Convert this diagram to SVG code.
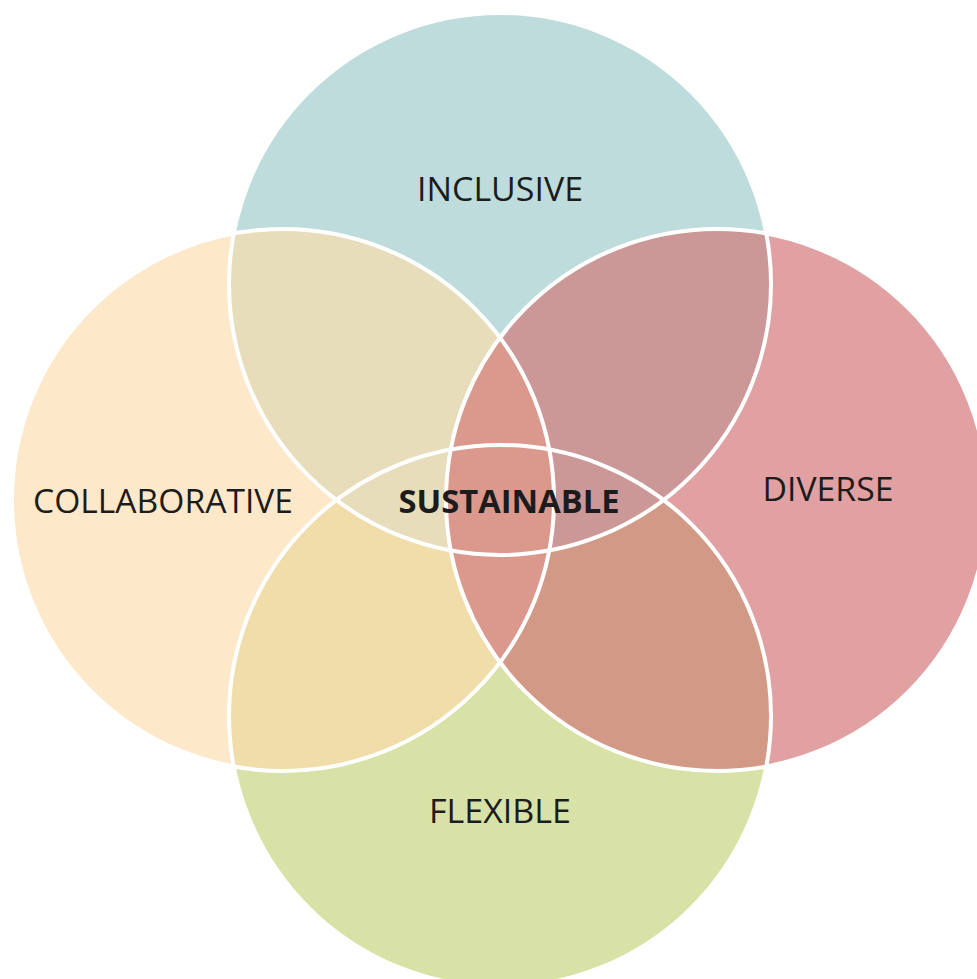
<svg xmlns="http://www.w3.org/2000/svg" width="977" height="979" viewBox="0 0 977 979">
  <style>
    .label { font-family: "Open Sans", "Liberation Sans", sans-serif; font-size: 32px; fill: #1c1c1c; text-anchor: middle; }
    .core { font-weight: 700; }
    .ring { fill: none; stroke: #ffffff; stroke-width: 4; }
  </style>
  <defs>
    <circle id="cTop" cx="500" cy="284" r="271"/>
    <circle id="cLeft" cx="283" cy="500" r="271"/>
    <circle id="cRight" cx="717" cy="500" r="271"/>
    <circle id="cBottom" cx="500" cy="716" r="271"/>
    <clipPath id="clipTop"><use href="#cTop"/></clipPath>
    <clipPath id="clipLeft"><use href="#cLeft"/></clipPath>
    <clipPath id="clipRight"><use href="#cRight"/></clipPath>
    <clipPath id="clipBottom"><use href="#cBottom"/></clipPath>
  </defs>
  <rect width="977" height="979" fill="#ffffff"/>

  <!-- base circles -->
  <g id="inclusive"><use href="#cTop" fill="#bedcdb"/></g>
  <g id="collaborative"><use href="#cLeft" fill="#fde8c9"/></g>
  <g id="diverse"><use href="#cRight" fill="#e1a1a2"/></g>
  <g id="flexible"><use href="#cBottom" fill="#d8e2a6"/></g>

  <!-- pairwise overlaps -->
  <g id="overlaps">
    <g clip-path="url(#clipBottom)"><use href="#cLeft" fill="#f1dda9"/></g>
    <g clip-path="url(#clipBottom)"><use href="#cRight" fill="#d39987"/></g>
    <g clip-path="url(#clipTop)"><use href="#cLeft" fill="#e8ddbb"/></g>
    <g clip-path="url(#clipTop)"><use href="#cRight" fill="#cc9797"/></g>
    <g clip-path="url(#clipLeft)"><use href="#cRight" fill="#da998c"/></g>
  </g>

  <!-- white outlines -->
  <g id="outlines">
    <use href="#cTop" class="ring"/>
    <use href="#cLeft" class="ring"/>
    <use href="#cRight" class="ring"/>
    <use href="#cBottom" class="ring"/>
  </g>

  <!-- labels -->
  <g id="labels">
    <text class="label" x="500" y="201" textLength="166" lengthAdjust="spacingAndGlyphs">INCLUSIVE</text>
    <text class="label" x="163" y="513" textLength="260" lengthAdjust="spacingAndGlyphs">COLLABORATIVE</text>
    <text class="label" x="828" y="501" textLength="131" lengthAdjust="spacingAndGlyphs">DIVERSE</text>
    <text class="label" x="500" y="823" textLength="142" lengthAdjust="spacingAndGlyphs">FLEXIBLE</text>
    <text class="label core" x="509" y="513" textLength="221" lengthAdjust="spacingAndGlyphs">SUSTAINABLE</text>
  </g>
</svg>
